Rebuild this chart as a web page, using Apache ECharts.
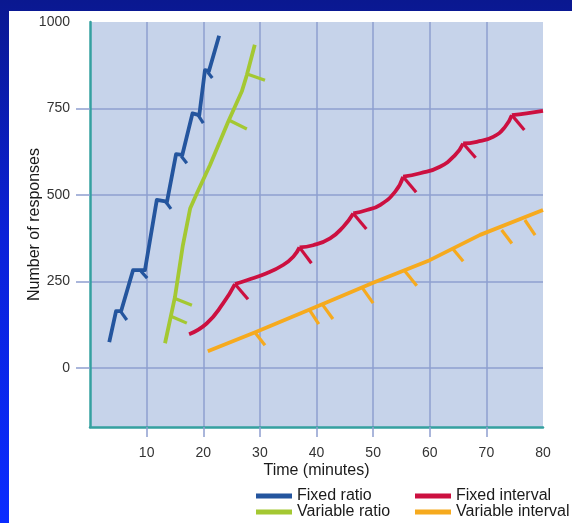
<!DOCTYPE html>
<html>
<head>
<meta charset="utf-8">
<script src="https://cdn.jsdelivr.net/npm/echarts@6/dist/echarts.min.js"></script>
<style>
  html, body { margin: 0; padding: 0; }
  body { width: 572px; height: 523px; overflow: hidden; position: relative;
         background: linear-gradient(to bottom, #0a1890 0%, #0b22d8 45%, #0a2cff 100%); }
  #c { position: absolute; left: 9px; top: 11px; width: 563px; height: 512px; background: #ffffff; }
</style>
</head>
<body>
<div id="c"></div>
<script>
// ---- data ----
const xLabelValues = [10, 20, 30, 40, 50, 60, 70, 80];
const xTickValues = [10, 20, 30, 40, 50, 60, 70];
const yLabelValues = [0, 250, 500, 750, 1000];
const yTickValues = [0, 250, 500, 750];

const seriesNames = ['Fixed ratio', 'Variable ratio', 'Fixed interval', 'Variable interval'];

const fixedRatio = [[3.4,75],[4.6,165],[5.5,165],[7.6,283],[9.7,283],[11.8,486],[13.6,481],
  [15.2,618],[16.3,616],[18.1,736],[19.3,731],[20.3,861],[21.0,858],[22.8,960]];
const fixedRatioMarks = [[5.5,162,6.5,139],[9.0,280,10.1,260],[13.4,480,14.3,460],
  [16.1,613,17.1,592],[19.1,731,20.0,708],[20.8,855,21.6,838]];

const variableRatio = [[13.25,72],[15.0,205],[16.4,355],[17.7,462],[18.9,506],[21.2,587],
  [24.4,712],[26.8,799],[27.7,847],[29.1,934]];
const variableRatioMarks = [[14.3,150,17.1,130],[14.9,202,18.0,182],[24.5,717,27.7,691],[27.75,850,30.9,832]];

const fixedIntervalSegments = [
  [[17.5,98],[20.6,129],[23.5,187],[25.6,243]],
  [[25.6,243],[27.7,254],[31.2,274],[34.1,298],[35.9,322],[37.0,349]],
  [[37.0,349],[39.4,355],[42.4,375],[44.7,408],[46.5,447]],
  [[46.5,447],[48.9,457],[51.2,471],[53.9,510],[55.3,553]],
  [[55.3,553],[58.3,563],[61.8,582],[64.5,616],[65.9,649]],
  [[65.9,649],[68.3,654],[71.2,668],[73.3,697],[74.5,731]],
  [[74.5,731],[77.1,736],[80,743]]
];
const fixedIntervalMarks = [[25.6,243,27.9,199],[37.0,349,39.1,303],[46.5,447,48.8,402],
  [55.3,553,57.6,508],[65.9,649,68.1,608],[74.5,731,76.7,688]];

const variableInterval = [[20.8,49],[29.4,105],[40.6,182],[50.0,247],[60.0,312],[68.9,385],[80,457]];
const variableIntervalMarks = [[29.1,104,30.9,66],[38.7,170,40.4,127],[41.0,185,42.9,142],
  [48.0,234,50.0,188],[55.6,281,57.7,238],[64.1,344,65.9,309],[72.7,399,74.5,360],[76.8,428,78.6,384]];

// ---- styling ----
const colors = { 'Fixed ratio': '#24559e', 'Variable ratio': '#a4c832', 'Fixed interval': '#cc1040', 'Variable interval': '#f6aa1e' };
const LW = 3.8;
const gridColor = '#8e9fcf';
const axisColor = '#35a0a0';
const tickFont = "'Liberation Sans Narrow', 'Liberation Sans', Arial, sans-serif";
const textFont = "'Liberation Sans', Arial, sans-serif";

function lineSeries(name, data, smooth) {
  return {
    name: name, type: 'line', data: data, showSymbol: false, symbol: 'none', smooth: smooth || false,
    lineStyle: { color: colors[name], width: LW, join: 'round' },
    itemStyle: { color: colors[name] }, silent: true, z: 3
  };
}
function markSeries(name, marks) {
  return {
    name: name + ' marks', type: 'lines', coordinateSystem: 'cartesian2d', silent: true, z: 3,
    lineStyle: { color: colors[name], width: LW - 0.6, opacity: 1, curveness: 0 },
    data: marks.map(m => ({ coords: [[m[0], m[1]], [m[2], m[3]]] }))
  };
}

const series = [];
series.push(lineSeries('Fixed ratio', fixedRatio));
series.push(markSeries('Fixed ratio', fixedRatioMarks));
series.push(lineSeries('Variable ratio', variableRatio));
series.push(markSeries('Variable ratio', variableRatioMarks));
fixedIntervalSegments.forEach(seg => series.push(lineSeries('Fixed interval', seg, 0.5)));
series.push(markSeries('Fixed interval', fixedIntervalMarks));
series.push(lineSeries('Variable interval', variableInterval));
series.push(markSeries('Variable interval', variableIntervalMarks));

const legendCommon = {
  orient: 'vertical', top: 477, itemWidth: 36, itemHeight: 5, itemGap: 0, padding: 0,
  icon: 'rect', selectedMode: false,
  textStyle: { fontFamily: textFont, fontSize: 16, color: '#1a1a1a' }
};

const chart = echarts.init(document.getElementById('c'), null, { renderer: 'canvas' });
chart.setOption({
  animation: false,
  backgroundColor: '#ffffff',
  color: seriesNames.map(n => colors[n]),
  grid: { left: 81, top: 11, right: 29, bottom: 96, containLabel: false, outerBoundsMode: 'none',
          show: true, backgroundColor: '#c6d3ea', borderWidth: 0 },
  legend: [
    Object.assign({}, legendCommon, { left: 247, data: ['Fixed ratio', 'Variable ratio'] }),
    Object.assign({}, legendCommon, { left: 406, data: ['Fixed interval', 'Variable interval'] })
  ],
  xAxis: {
    type: 'value', min: 0, max: 80, interval: 10,
    name: 'Time (minutes)', nameLocation: 'middle', nameGap: 36, nameMoveOverlap: false,
    nameTextStyle: { fontFamily: textFont, fontSize: 16, color: '#1a1a1a' },
    axisLine: { show: true, onZero: false, lineStyle: { color: axisColor, width: 2.5 } },
    axisTick: { show: true, length: 10, customValues: xTickValues, lineStyle: { color: gridColor, width: 1.5 } },
    axisLabel: { customValues: xLabelValues, margin: 19, fontFamily: tickFont, fontSize: 14, color: '#333',
                 formatter: v => String(v) },
    splitLine: { show: true, lineStyle: { color: gridColor, width: 1.5 } }
  },
  yAxis: {
    type: 'value', min: -170, max: 1000,
    name: 'Number of responses', nameLocation: 'middle', nameGap: 47, nameRotate: 90, nameMoveOverlap: false,
    nameTextStyle: { fontFamily: textFont, fontSize: 16, color: '#1a1a1a' },
    axisLine: { show: true, onZero: false, lineStyle: { color: axisColor, width: 2.5 } },
    axisTick: { show: true, length: 14, customValues: yTickValues, lineStyle: { color: gridColor, width: 1.5 } },
    axisLabel: { customValues: yLabelValues, margin: 20, fontFamily: tickFont, fontSize: 14, color: '#333',
                 formatter: v => String(v) },
    splitLine: { show: true, lineStyle: { color: gridColor, width: 1.5 } }
  },
  series: series
});
</script>
</body>
</html>
